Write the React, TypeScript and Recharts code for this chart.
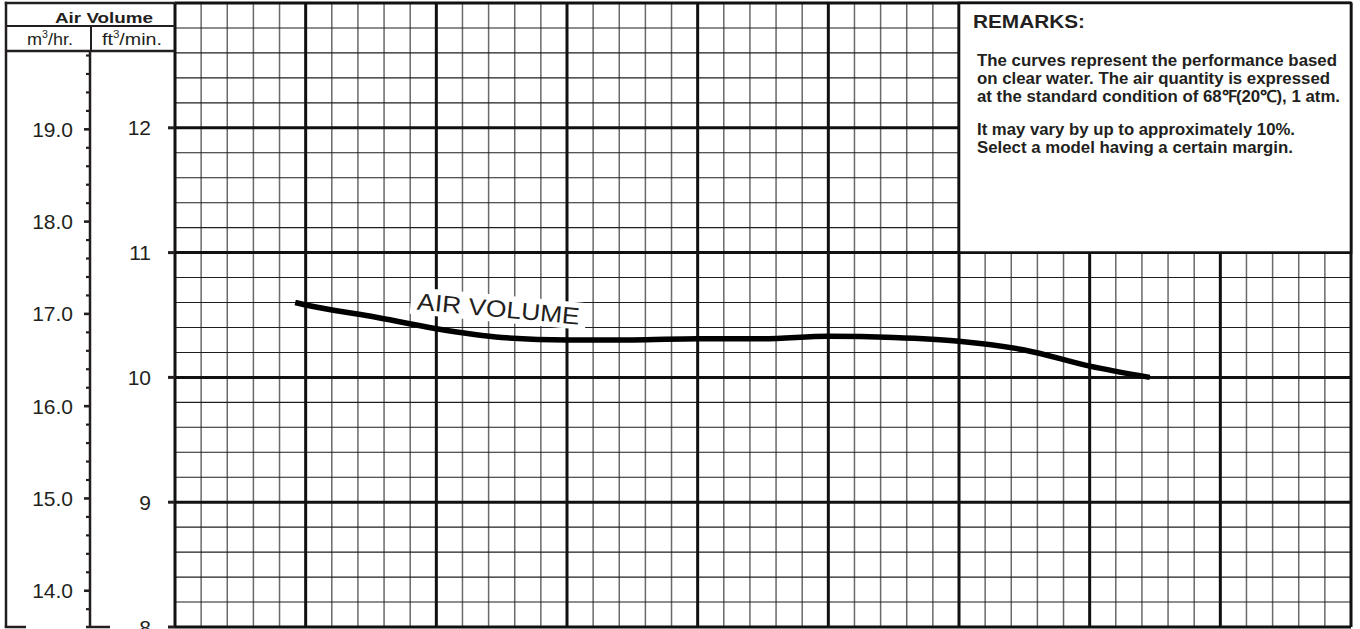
import React from 'react';
import {
  ComposedChart,
  Line,
  XAxis,
  YAxis,
  CartesianGrid,
  ReferenceArea,
  ReferenceDot,
} from 'recharts';

// ---- data ----
const flowX = [0.92, 1.0, 1.5, 2.0, 2.5, 3.0, 3.5, 4.0, 4.5, 5.0, 5.5, 6.0, 6.5, 7.0, 7.46];
const airCfm = [10.6, 10.58, 10.49, 10.39, 10.32, 10.3, 10.3, 10.31, 10.31, 10.33, 10.32, 10.29, 10.22, 10.09, 10.0];

const xMajorTicks = [0, 1, 2, 3, 4, 5, 6, 7, 8, 9];
const cfmMajorTicks = [8, 9, 10, 11, 12, 13];
const cfmLabelTicks = [8, 9, 10, 11, 12];
const m3LabelTicks = [14, 15, 16, 17, 18, 19];

const X_DOMAIN: [number, number] = [0, 9];
const CFM_DOMAIN: [number, number] = [8, 13];
const M3_DOMAIN: [number, number] = [13.607, 20.369];

const remarksTitle = 'REMARKS:';
const remarksLines = [
  'The curves represent the performance based',
  'on clear water. The air quantity is expressed',
  'at the standard condition of 68℉(20℃), 1 atm.',
  'It may vary by up to approximately 10%.',
  'Select a model having a certain margin.',
];

const range = (a: number, b: number, step: number) => {
  const out: number[] = [];
  const n = Math.round((b - a) / step);
  for (let i = 0; i <= n; i++) out.push(+(a + i * step).toFixed(3));
  return out;
};
const xMinorTicks = range(0, 9, 0.2);
const cfmMinorTicks = range(8, 13, 0.2);
const m3Ticks = range(13.8, 19.8, 0.2);

const data = flowX.map((x, i) => ({ x, cfm: airCfm[i] }));

const FONT = '"Liberation Sans", Arial, Helvetica, sans-serif';
const INK = '#231f20';

function M3Tick(props: any) {
  const { x, y, payload } = props;
  const v = payload.value as number;
  const major = m3LabelTicks.some((t) => Math.abs(t - v) < 0.01);
  return (
    <g>
      <line x1={x - (major ? 7 : 5)} x2={x - 1} y1={y} y2={y} stroke={INK} strokeWidth={major ? 2.6 : 2.2} />
      {major && (
        <text x={x - 18} y={y + 7.5} textAnchor="end" fontSize={21} fill={INK} fontFamily={FONT}>
          {v.toFixed(1)}
        </text>
      )}
    </g>
  );
}

function CfmTick(props: any) {
  const { x, y, payload } = props;
  return (
    <text x={x} y={y + 7.5} textAnchor="end" fontSize={21} fill={INK} fontFamily={FONT}>
      {payload.value}
    </text>
  );
}

const renderAirLabel = (props: any) => {
  const vb = props.viewBox || {};
  const cx = (vb.x ?? 0) + (vb.width ?? 0) / 2;
  const cy = (vb.y ?? 0) + (vb.height ?? 0) / 2;
  return (
    <g transform={`translate(${cx},${cy}) rotate(5.3)`}>
      <rect x={-88} y={-22} width={176} height={27} fill="#fff" />
      <text
        x={-81.5}
        y={0}
        fontSize={23.5}
        fill={INK}
        fontFamily={FONT}
        textLength={163}
        lengthAdjust="spacingAndGlyphs"
      >
        AIR VOLUME
      </text>
    </g>
  );
};

const remarkBaselines = [66, 84, 101.5, 135, 152.5];
const remarkLengths = [360, 353, 363, 318, 316];

export default function App() {
  return (
    <div style={{ position: 'absolute', left: 0, top: 0, width: 1360, height: 629, background: '#fff' }}>
      <ComposedChart
        width={1360}
        height={629}
        data={data}
        margin={{ top: 3, right: 9, bottom: 2, left: 0 }}
      >
        <XAxis dataKey="x" type="number" domain={X_DOMAIN} ticks={xMajorTicks} hide allowDataOverflow />
        <YAxis
          yAxisId="ft"
          type="number"
          domain={CFM_DOMAIN}
          allowDataOverflow
          ticks={cfmLabelTicks}
          interval={0}
          width={84}
          tickSize={7}
          tickMargin={17}
          tickLine={{ stroke: INK, strokeWidth: 3 }}
          axisLine={false}
          tick={CfmTick}
        />
        <YAxis
          yAxisId="m3"
          type="number"
          domain={M3_DOMAIN}
          allowDataOverflow
          ticks={m3Ticks}
          interval={0}
          width={91}
          tickSize={0}
          tickMargin={0}
          tickLine={false}
          axisLine={false}
          tick={M3Tick}
        />
        <CartesianGrid
          yAxisId="ft"
          horizontal={false}
          verticalValues={xMinorTicks}
          stroke="#6a6a6a"
          strokeWidth={1.5}
        />
        <CartesianGrid
          yAxisId="ft"
          vertical={false}
          horizontalValues={cfmMinorTicks}
          stroke="#1e1e1e"
          strokeWidth={1.1}
        />
        <CartesianGrid
          yAxisId="ft"
          verticalValues={xMajorTicks}
          horizontalValues={cfmMajorTicks}
          stroke="#111"
          strokeWidth={3}
        />
        <ReferenceArea
          yAxisId="ft"
          x1={6}
          x2={9}
          y1={11}
          y2={13}
          fill="#fff"
          fillOpacity={1}
          stroke="#111"
          strokeWidth={2.6}
        />
        <Line
          yAxisId="ft"
          dataKey="cfm"
          type="monotone"
          stroke="#000"
          strokeWidth={5.5}
          dot={false}
          activeDot={false}
          isAnimationActive={false}
        />
        <ReferenceDot
          yAxisId="ft"
          x={2.47}
          y={10.484}
          r={1}
          fill="none"
          stroke="none"
          label={renderAirLabel}
        />
      </ComposedChart>

      <svg
        width={1360}
        height={629}
        style={{ position: 'absolute', left: 0, top: 0, pointerEvents: 'none' }}
      >
        <g stroke={INK} fill="none">
          <line x1={6} y1={1.8} x2={6} y2={628} strokeWidth={2.5} />
          <line x1={4.8} y1={3} x2={176} y2={3} strokeWidth={2.5} />
          <line x1={6} y1={26} x2={175} y2={26} strokeWidth={2} />
          <line x1={6} y1={51} x2={175} y2={51} strokeWidth={2.5} />
          <line x1={91} y1={26} x2={91} y2={51} strokeWidth={2} />
          <line x1={90} y1={51} x2={90} y2={628} strokeWidth={2.5} />
          <line x1={4.8} y1={627} x2={26} y2={627} strokeWidth={2.5} />
          <line x1={86} y1={627} x2={110} y2={627} strokeWidth={2.5} />
        </g>
        <text
          x={55}
          y={22.5}
          fontSize={15.5}
          fontWeight="bold"
          fill={INK}
          fontFamily={FONT}
          textLength={98}
          lengthAdjust="spacingAndGlyphs"
        >
          Air Volume
        </text>
        <text x={27} y={45} fontSize={17} fill={INK} fontFamily={FONT} textLength={46} lengthAdjust="spacingAndGlyphs">
          <tspan>m</tspan>
          <tspan fontSize={10} dy={-7}>3</tspan>
          <tspan dy={7}>/hr.</tspan>
        </text>
        <text x={102} y={45} fontSize={17} fill={INK} fontFamily={FONT} textLength={60} lengthAdjust="spacingAndGlyphs">
          <tspan>ft</tspan>
          <tspan fontSize={10} dy={-7}>3</tspan>
          <tspan dy={7}>/min.</tspan>
        </text>

        <text
          x={973}
          y={28}
          fontSize={18}
          fontWeight="bold"
          fill={INK}
          fontFamily={FONT}
          textLength={112}
          lengthAdjust="spacingAndGlyphs"
        >
          {remarksTitle}
        </text>
        {remarksLines.map((t, i) => (
          <text
            key={i}
            x={977}
            y={remarkBaselines[i]}
            fontSize={16.5}
            fontWeight="bold"
            fill={INK}
            fontFamily={FONT}
            textLength={remarkLengths[i]}
            lengthAdjust="spacingAndGlyphs"
          >
            {t}
          </text>
        ))}
      </svg>
    </div>
  );
}
